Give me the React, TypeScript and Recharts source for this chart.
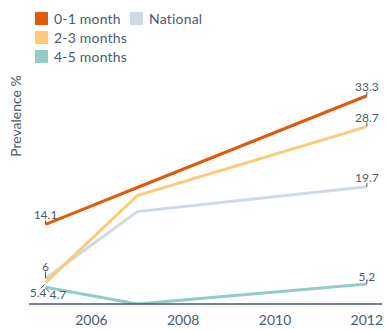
import { LineChart, Line, XAxis, YAxis } from "recharts";

const years = [2005, 2007, 2012];
const month01 = [14.1, 19.6, 33.3];
const month23 = [5.4, 18.4, 28.7];
const national = [6, 16.0, 19.7];
const month45 = [4.7, 2.2, 5.2];
const xTicks = [2006, 2008, 2010, 2012];

const TEXT = "#4b5a6e";
const AXIS = "#4b5a6e";
const FONT = "Lato, 'Noto Sans', sans-serif";

const SERIES = [
  { key: "m45", name: "4-5 months", color: "#94cbc7", values: month45 },
  { key: "nat", name: "National", color: "#cfd9e6", values: national },
  { key: "m23", name: "2-3 months", color: "#fdc97a", values: month23 },
  { key: "m01", name: "0-1 month", color: "#e05b0b", values: month01 },
];

const data = years.map((year, i) => ({
  year,
  m01: month01[i],
  m23: month23[i],
  nat: national[i],
  m45: month45[i],
}));

// label placement per series, first/last point only
type Place = { tx: number; ty: number; anchor: "start" | "middle" | "end"; l1: [number, number]; l2: [number, number] };
const above: Place = { tx: 0, ty: -5, anchor: "middle", l1: [0, 0], l2: [0, -4] };
const PLACES: Record<string, Record<number, Place>> = {
  m01: { 0: above, 2: above },
  m23: { 0: { tx: 1, ty: 14, anchor: "end", l1: [-1, 2], l2: [-5, 6] }, 2: above },
  nat: { 0: { tx: 0, ty: -8, anchor: "middle", l1: [0, 0], l2: [0, -7] }, 2: above },
  m45: { 0: { tx: 4, ty: 12, anchor: "start", l1: [0, 1], l2: [4, 5] }, 2: { ...above, ty: -3, l2: [0, -3] } },
};

const makeLabel = (key: string) => (props: any) => {
  const { x, y, value, index } = props;
  const p = PLACES[key][index];
  if (!p) return null;
  return (
    <g>
      <line x1={x + p.l1[0]} y1={y + p.l1[1]} x2={x + p.l2[0]} y2={y + p.l2[1]} stroke={TEXT} strokeWidth={1} />
      <text x={x + p.tx} y={y + p.ty} textAnchor={p.anchor} fontSize={12} fill={TEXT} fontFamily={FONT}>
        {value}
      </text>
    </g>
  );
};

const legendCols = [
  [SERIES[3], SERIES[2], SERIES[0]],
  [SERIES[1]],
];

export default function App() {
  return (
    <div style={{ position: "absolute", left: 0, top: 0, width: 385, height: 331, background: "#fff", fontFamily: FONT }}>
      <LineChart
        width={385}
        height={331}
        data={data}
        margin={{ top: 73, right: 3, bottom: 0, left: 29 }}
        style={{ position: "absolute", left: 0, top: 0 }}
      >
        <XAxis
          dataKey="year"
          type="number"
          domain={[2004.64, 2012.33]}
          ticks={xTicks}
          allowDataOverflow
          height={27}
          tickLine={false}
          axisLine={{ stroke: AXIS, strokeWidth: 1.5 }}
          tick={{ fill: TEXT, fontSize: 14, fontFamily: FONT }}
          tickMargin={5}
        />
        <YAxis
          type="number"
          domain={[2.2, 36.7]}
          allowDataOverflow
          width={0}
          tick={false}
          tickLine={false}
          axisLine={{ stroke: AXIS, strokeWidth: 1.5 }}
        />
        {SERIES.map((s) => (
          <Line
            key={s.key}
            dataKey={s.key}
            stroke={s.color}
            strokeWidth={3}
            dot={false}
            activeDot={false}
            isAnimationActive={false}
            label={makeLabel(s.key)}
          />
        ))}
      </LineChart>
      <svg width={30} height={200} style={{ position: "absolute", left: 0, top: 0 }}>
        <text transform="translate(21,116) rotate(-90)" textAnchor="middle" fontSize={14} fill={TEXT} fontFamily={FONT}>
          Prevalence %
        </text>
      </svg>
      {legendCols.map((col, ci) => (
        <div key={ci} style={{ position: "absolute", left: ci === 0 ? 35 : 130, top: 9 }}>
          {col.map((s) => (
            <div key={s.key} style={{ display: "flex", alignItems: "center", height: 19, fontSize: 14, color: TEXT, letterSpacing: 0.2 }}>
              <span style={{ width: 13, height: 13, background: s.color, marginRight: 6, display: "inline-block" }} />
              {s.name}
            </div>
          ))}
        </div>
      ))}
    </div>
  );
}
